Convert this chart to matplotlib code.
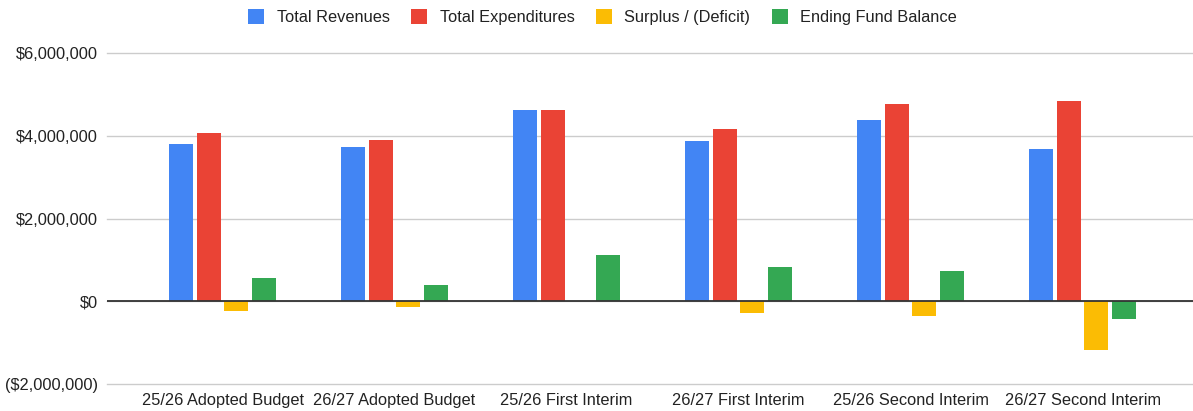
import matplotlib
matplotlib.use("Agg")
import matplotlib.pyplot as plt
import numpy as np
from matplotlib.ticker import FuncFormatter

categories = ["25/26 Adopted Budget", "26/27 Adopted Budget", "25/26 First Interim",
              "26/27 First Interim", "25/26 Second Interim", "26/27 Second Interim"]
total_revenues = [3806000, 3740000, 4630000, 3880000, 4395000, 3685000]
total_expenditures = [4070000, 3910000, 4630000, 4170000, 4770000, 4855000]
surplus_deficit = [-245000, -145000, 0, -280000, -350000, -1190000]
ending_fund_balance = [556000, 400000, 1120000, 830000, 730000, -440000]

series_names = ["Total Revenues", "Total Expenditures", "Surplus / (Deficit)", "Ending Fund Balance"]
series_values = [total_revenues, total_expenditures, surplus_deficit, ending_fund_balance]
colors = ["#4285F4", "#EA4335", "#FBBC04", "#34A853"]

plt.rcParams['font.family'] = ['Liberation Sans', 'DejaVu Sans']
FS = 11.8

W, H = 1193, 411
fig = plt.figure(figsize=(W / 100, H / 100), dpi=100)
ax = fig.add_axes([107 / W, 1 - 383.7 / H, (W - 107) / W, (383.7 - 53.3) / H])

x = np.arange(len(categories))
width = 0.14
pitch = 0.161
for i, (name, vals, c) in enumerate(zip(series_names, series_values, colors)):
    ax.bar(x + (i - 1.5) * pitch, vals, width, color=c, label=name, zorder=3)

ax.set_ylim(-2e6, 6e6)
ax.set_xlim(-0.6715, 5.642)
ax.set_yticks([-2e6, 0, 2e6, 4e6, 6e6])

def fmt(v, pos):
    if v < 0:
        return "(${:,.0f})".format(-v)
    return "${:,.0f}".format(v)

ax.yaxis.set_major_formatter(FuncFormatter(fmt))
ax.set_xticks(x)
ax.set_xticklabels(categories)
ax.tick_params(axis='both', length=0, labelsize=FS, colors="#222222")
ax.tick_params(axis='y', pad=6.5)
ax.tick_params(axis='x', pad=6.5)
ax.grid(axis='y', color="#cccccc", linewidth=1, zorder=0)
for gl in ax.get_ygridlines():
    gl.set_clip_on(False)
ax.axhline(0, color="#333333", linewidth=1.3, zorder=4)
for s in ax.spines.values():
    s.set_visible(False)

leg = fig.legend(loc='center', bbox_to_anchor=(602.5 / W, 1 - 17 / H), ncol=4, frameon=False,
                 fontsize=FS, handlelength=1.0, handleheight=1.0, handletextpad=0.75,
                 columnspacing=1.3)
for t in leg.get_texts():
    t.set_color("#222222")

fig.savefig("out.png", dpi=100)
